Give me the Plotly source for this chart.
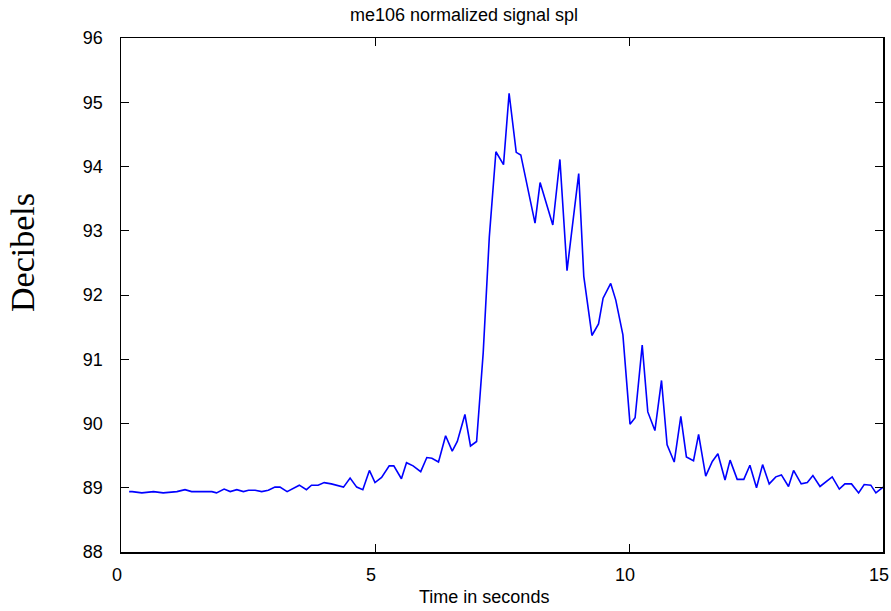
import plotly.graph_objects as go

# Time (s) and level (dB)
time_s = [0.16, 0.22, 0.41, 0.64, 0.83, 1.0, 1.1, 1.26, 1.39, 1.79, 1.88, 2.03, 2.15, 2.28, 2.41,
          2.51, 2.64, 2.77, 2.9, 3.03, 3.13, 3.27, 3.51, 3.65, 3.75, 3.88, 4.0, 4.14, 4.38, 4.51,
          4.64, 4.76, 4.89, 5.0, 5.13, 5.28, 5.37, 5.52, 5.62, 5.75, 5.9, 6.02, 6.12, 6.25, 6.39,
          6.52, 6.62, 6.77, 6.88, 7.0, 7.13, 7.25, 7.38, 7.53, 7.64, 7.78, 7.87, 8.15, 8.25, 8.5,
          8.64, 8.78, 9.01, 9.11, 9.27, 9.40, 9.49, 9.64, 9.74, 9.88, 10.02, 10.12, 10.26, 10.37,
          10.51, 10.64, 10.75, 10.89, 11.02, 11.13, 11.27, 11.37, 11.51, 11.64, 11.75, 11.89,
          11.99, 12.13, 12.26, 12.38, 12.51, 12.63, 12.76, 12.89, 13.0, 13.14, 13.24, 13.39,
          13.51, 13.62, 13.76, 14.0, 14.14, 14.25, 14.38, 14.52, 14.63, 14.76, 14.86, 15.0]
level_db = [88.94, 88.94, 88.92, 88.94, 88.92, 88.93, 88.94, 88.97, 88.94, 88.94, 88.92, 88.98,
            88.94, 88.97, 88.94, 88.96, 88.96, 88.94, 88.96, 89.01, 89.01, 88.94, 89.04, 88.97,
            89.04, 89.04, 89.08, 89.06, 89.01, 89.15, 89.01, 88.97, 89.27, 89.08, 89.16, 89.34,
            89.34, 89.14, 89.39, 89.34, 89.25, 89.47, 89.46, 89.40, 89.81, 89.57, 89.72, 90.14,
            89.65, 89.72, 91.1, 92.9, 94.23, 94.03, 95.14, 94.22, 94.18, 93.12, 93.75, 93.09,
            94.11, 92.38, 93.89, 92.29, 91.37, 91.55, 91.95, 92.18, 91.92, 91.38, 89.99, 90.09,
            91.22, 90.18, 89.89, 90.67, 89.67, 89.40, 90.11, 89.48, 89.42, 89.83, 89.18, 89.41,
            89.53, 89.12, 89.43, 89.13, 89.13, 89.35, 89.0, 89.36, 89.06, 89.17, 89.20, 89.02,
            89.27, 89.06, 89.08, 89.19, 89.02, 89.17, 88.98, 89.06, 89.06, 88.92, 89.05, 89.04,
            88.92, 89.01]

x_ticks = [0, 5, 10, 15]
y_ticks = [88, 89, 90, 91, 92, 93, 94, 95, 96]

fig = go.Figure()
fig.add_trace(go.Scatter(x=time_s, y=level_db, mode="lines",
                         line=dict(color="#0000ff", width=1.6), showlegend=False))

sans = "Liberation Sans, Arial, sans-serif"
axis_common = dict(showline=True, linecolor="black", linewidth=1.5, mirror="ticks",
                   ticks="inside", ticklen=8, tickwidth=1, tickcolor="black",
                   showgrid=False, zeroline=False, automargin=False,
                   ticklabeloverflow="allow",
                   tickfont=dict(family=sans, size=18, color="black"))

fig.update_layout(
    width=891, height=611,
    margin=dict(l=121, r=8, t=38, b=59),
    paper_bgcolor="white", plot_bgcolor="white",
    title=dict(text="me106 normalized signal spl", x=464 / 891, xanchor="center",
               xref="container", yref="container",
               y=1 - 15 / 611, yanchor="middle", font=dict(family=sans, size=18, color="black")),
    xaxis=dict(range=[0, 15], tickvals=x_ticks, ticktext=[str(v) for v in x_ticks],
               ticklabelstandoff=6, ticklabelshift=-4, **axis_common),
    yaxis=dict(range=[88, 96], tickvals=y_ticks, ticktext=[str(v) for v in y_ticks],
               ticklabelstandoff=13, **axis_common),
    annotations=[
        dict(text="Decibels", xref="paper", yref="paper", x=(23 - 121) / 762,
             y=(552 - 252) / 514,
             xanchor="center", yanchor="middle", textangle=-90, showarrow=False,
             font=dict(family="Liberation Serif, Times New Roman, serif", size=34,
                       color="black")),
        dict(text="Time in seconds", xref="paper", yref="paper", x=(484 - 121) / 762,
             y=(552 - 597) / 514, xanchor="center", yanchor="middle", showarrow=False,
             font=dict(family=sans, size=18, color="black")),
    ],
)

fig.write_html("out.html", config={"displayModeBar": False, "staticPlot": True},
               post_script="document.body.style.margin='0';document.body.style.overflow='hidden';")
